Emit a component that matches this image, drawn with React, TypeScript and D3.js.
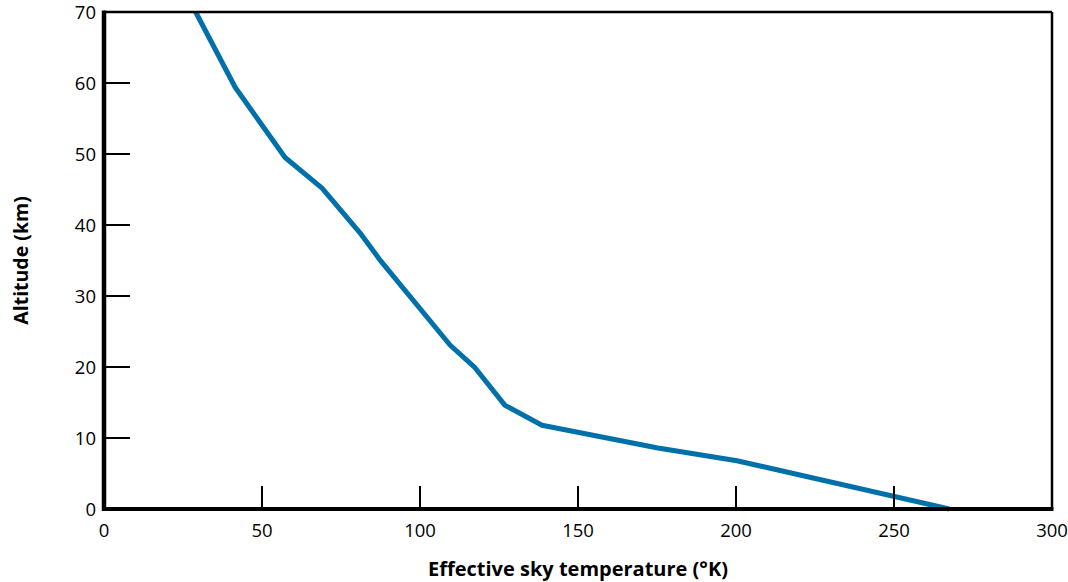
import React from "react";
import * as d3 from "d3";

const temperature = [29, 41.5, 57.3, 69, 81, 87.3, 109.5, 117.4, 126.9, 138.6, 175.3, 200.3, 267.5];
const altitude = [70, 59.4, 49.5, 45.2, 38.9, 35.1, 23.1, 19.9, 14.6, 11.8, 8.6, 6.8, 0];
const xTicks = [0, 50, 100, 150, 200, 250, 300];
const yTicks = [0, 10, 20, 30, 40, 50, 60, 70];

const W = 1068, H = 582;
const L = 104, R = 1052, T = 12, B = 509;
const FONT = "'Open Sans', 'Noto Sans', sans-serif";

export default function App() {
  const x = d3.scaleLinear().domain([0, 300]).range([L, R]);
  const y = d3.scaleLinear().domain([0, 70]).range([B, T]);
  const pts: [number, number][] = temperature.map((t, i) => [t, altitude[i]]);
  const line = d3.line<[number, number]>().x(d => x(d[0])).y(d => y(d[1]));
  return (
    <svg width={W} height={H} style={{ position: "absolute", left: 0, top: 0 }}>
      <rect x={0} y={0} width={W} height={H} fill="#fff" />
      <path d={line(pts) || ""} fill="none" stroke="#0070aa" strokeWidth={5} strokeLinejoin="round" />
      <line x1={L} y1={T} x2={R} y2={T} stroke="#000" strokeWidth={2.5} />
      <line x1={R} y1={T} x2={R} y2={B} stroke="#000" strokeWidth={2.5} />
      <line x1={L} y1={T - 1.5} x2={L} y2={B + 2} stroke="#000" strokeWidth={4.5} />
      <line x1={L - 2} y1={B} x2={R + 1.5} y2={B} stroke="#000" strokeWidth={4} />
      {yTicks.filter(v => v > 0 && v < 70).map(v => (
        <line key={"yt" + v} x1={L} x2={L + 26} y1={y(v)} y2={y(v)} stroke="#000" strokeWidth={2} />
      ))}
      {xTicks.filter(v => v > 0 && v < 300).map(v => (
        <line key={"xt" + v} x1={x(v)} x2={x(v)} y1={B} y2={B - 23} stroke="#000" strokeWidth={2} />
      ))}
      {yTicks.map(v => (
        <text key={"yl" + v} x={L - 8} y={y(v)} dy="0.36em" textAnchor="end" fontFamily={FONT} fontSize={18.5} fill="#000">{v}</text>
      ))}
      {xTicks.map(v => (
        <text key={"xl" + v} x={x(v)} y={537} textAnchor="middle" fontFamily={FONT} fontSize={18.5} fill="#000">{v}</text>
      ))}
      <text x={(L + R) / 2} y={576} textAnchor="middle" fontFamily={FONT} fontSize={20} fontWeight="bold" fill="#000">Effective sky temperature (°K)</text>
      <text transform={`translate(28, ${(T + B) / 2}) rotate(-90)`} textAnchor="middle" fontFamily={FONT} fontSize={19.5} fontWeight="bold" fill="#000">Altitude (km)</text>
    </svg>
  );
}
